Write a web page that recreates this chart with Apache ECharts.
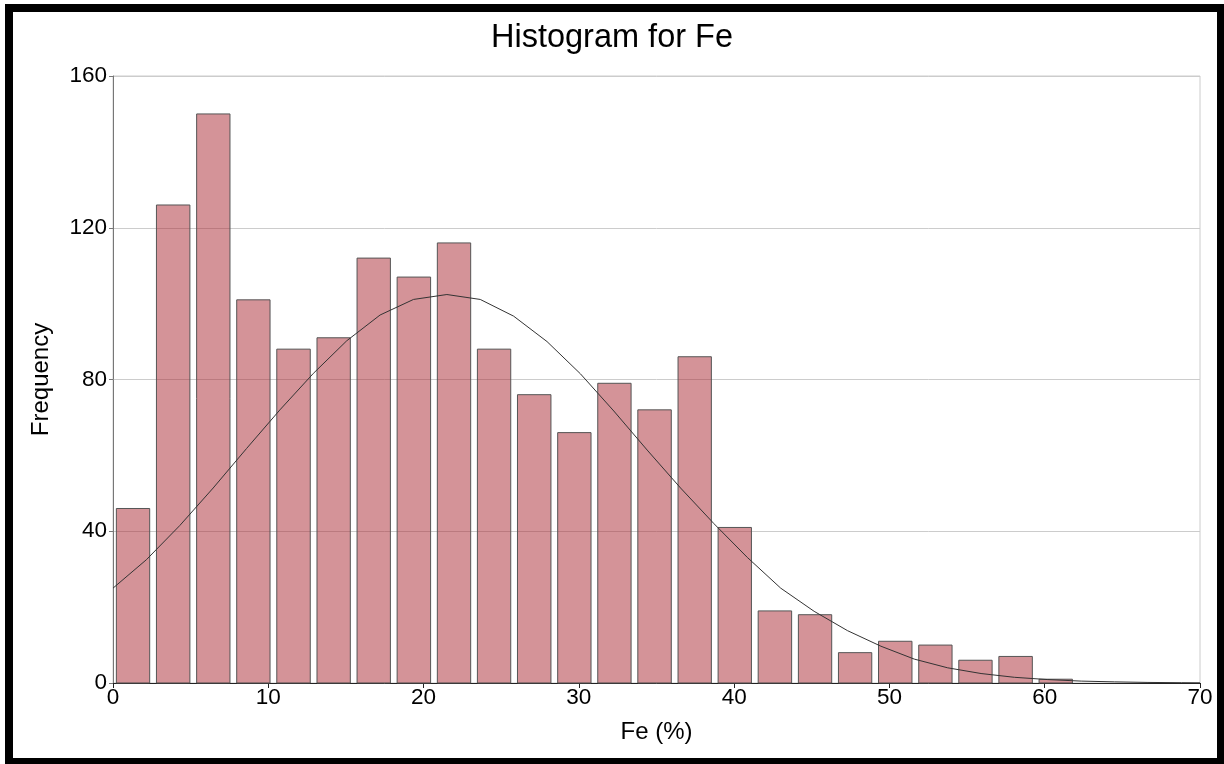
<!DOCTYPE html>
<html>
<head>
<meta charset="utf-8">
<script src="https://cdn.jsdelivr.net/npm/echarts@6/dist/echarts.min.js"></script>
<style>
html,body{margin:0;padding:0;background:#fff;}
#chart{position:absolute;left:0;top:0;width:1224px;height:764px;}
#frame{position:absolute;left:5px;top:4px;right:0;bottom:0;box-sizing:border-box;border-style:solid;border-color:#000;border-width:8px 7px 6px 8px;pointer-events:none;}
</style>
</head>
<body>
<div id="chart"></div>
<div id="frame"></div>
<script>
// Histogram bin edges (Fe %)
const binEdges = [0, 2.58, 5.17, 7.75, 10.33, 12.92, 15.5, 18.08, 20.67, 23.25, 25.83, 28.42, 31, 33.58, 36.17, 38.75, 41.33, 43.92, 46.5, 49.08, 51.67, 54.25, 56.83, 59.42, 62];
// Frequency per bin
const frequencies = [46, 126, 150, 101, 88, 91, 112, 107, 116, 88, 76, 66, 79, 72, 86, 41, 19, 18, 8, 11, 10, 6, 7, 1];
// Fitted curve points
const curveX = [0, 2.15, 4.3, 6.45, 8.6, 10.75, 12.9, 15.05, 17.2, 19.35, 21.5, 23.65, 25.8, 27.95, 30.1, 32.25, 34.4, 36.55, 38.7, 40.85, 43.0, 45.15, 47.3, 49.45, 51.6, 53.75, 55.9, 58.05, 60.2, 62.35, 64.5, 66.65, 68.8, 70];
const curveY = [25.0, 32.5, 41.5, 51.4, 61.8, 72.0, 81.6, 90.2, 97.0, 101.1, 102.4, 101.1, 96.7, 90.0, 81.5, 71.7, 61.4, 51.4, 42.0, 33.1, 25.0, 18.9, 13.8, 9.7, 6.3, 4.0, 2.5, 1.5, 0.9, 0.5, 0.3, 0.15, 0.08, 0.05];
const xTicks = {min: 0, max: 70, interval: 10};
const yTicks = {min: 0, max: 160, interval: 40};

const barData = frequencies.map((f, i) => [binEdges[i], binEdges[i + 1], f]);
const lineData = curveX.map((x, i) => [x, curveY[i]]);

const FONT = '"Liberation Sans", Arial, sans-serif';
const chart = echarts.init(document.getElementById('chart'), null, {renderer: 'canvas'});
chart.setOption({
  animation: false,
  backgroundColor: '#fff',
  title: {
    text: 'Histogram for Fe',
    left: 'center',
    top: 17,
    textStyle: {fontFamily: FONT, fontSize: 32.5, fontWeight: 'normal', color: '#000'}
  },
  grid: {left: 113, right: 24, top: 76, bottom: 81, show: true, borderColor: '#cccccc', borderWidth: 1, backgroundColor: 'transparent'},
  xAxis: {
    type: 'value',
    min: xTicks.min, max: xTicks.max, interval: xTicks.interval,
    name: 'Fe (%)',
    nameLocation: 'middle',
    nameGap: 37,
    nameTextStyle: {fontFamily: FONT, fontSize: 24, color: '#000'},
    axisLine: {show: true, lineStyle: {color: '#222', width: 1}},
    axisTick: {show: true, length: 5, lineStyle: {color: '#222'}},
    axisLabel: {fontFamily: FONT, fontSize: 22.5, color: '#000', margin: 3},
    splitLine: {show: false}
  },
  yAxis: {
    type: 'value',
    min: yTicks.min, max: yTicks.max, interval: yTicks.interval,
    name: 'Frequency',
    nameLocation: 'middle',
    nameGap: 60,
    nameRotate: 90,
    nameTextStyle: {fontFamily: FONT, fontSize: 24, color: '#000'},
    axisLine: {show: true, lineStyle: {color: '#777', width: 1}},
    axisTick: {show: true, length: 4, lineStyle: {color: '#777'}},
    axisLabel: {fontFamily: FONT, fontSize: 22.5, color: '#000', margin: 6},
    splitLine: {show: true, lineStyle: {color: '#cccccc', width: 1}}
  },
  series: [
    {
      type: 'custom',
      data: barData,
      encode: {x: [0, 1], y: 2},
      renderItem: function (params, api) {
        const p0 = api.coord([api.value(0), api.value(2)]);
        const p1 = api.coord([api.value(1), 0]);
        const w = p1[0] - p0[0];
        const inset = w * 0.084;
        return {
          type: 'rect',
          shape: {x: p0[0] + inset, y: p0[1], width: w - 2 * inset, height: p1[1] - p0[1]},
          style: {fill: 'rgba(170,40,50,0.5)', stroke: '#555', lineWidth: 1}
        };
      },
      z: 2
    },
    {
      type: 'line',
      data: lineData,
      symbol: 'none',
      smooth: false,
      lineStyle: {color: '#333', width: 1},
      z: 3
    }
  ]
});
</script>
</body>
</html>
